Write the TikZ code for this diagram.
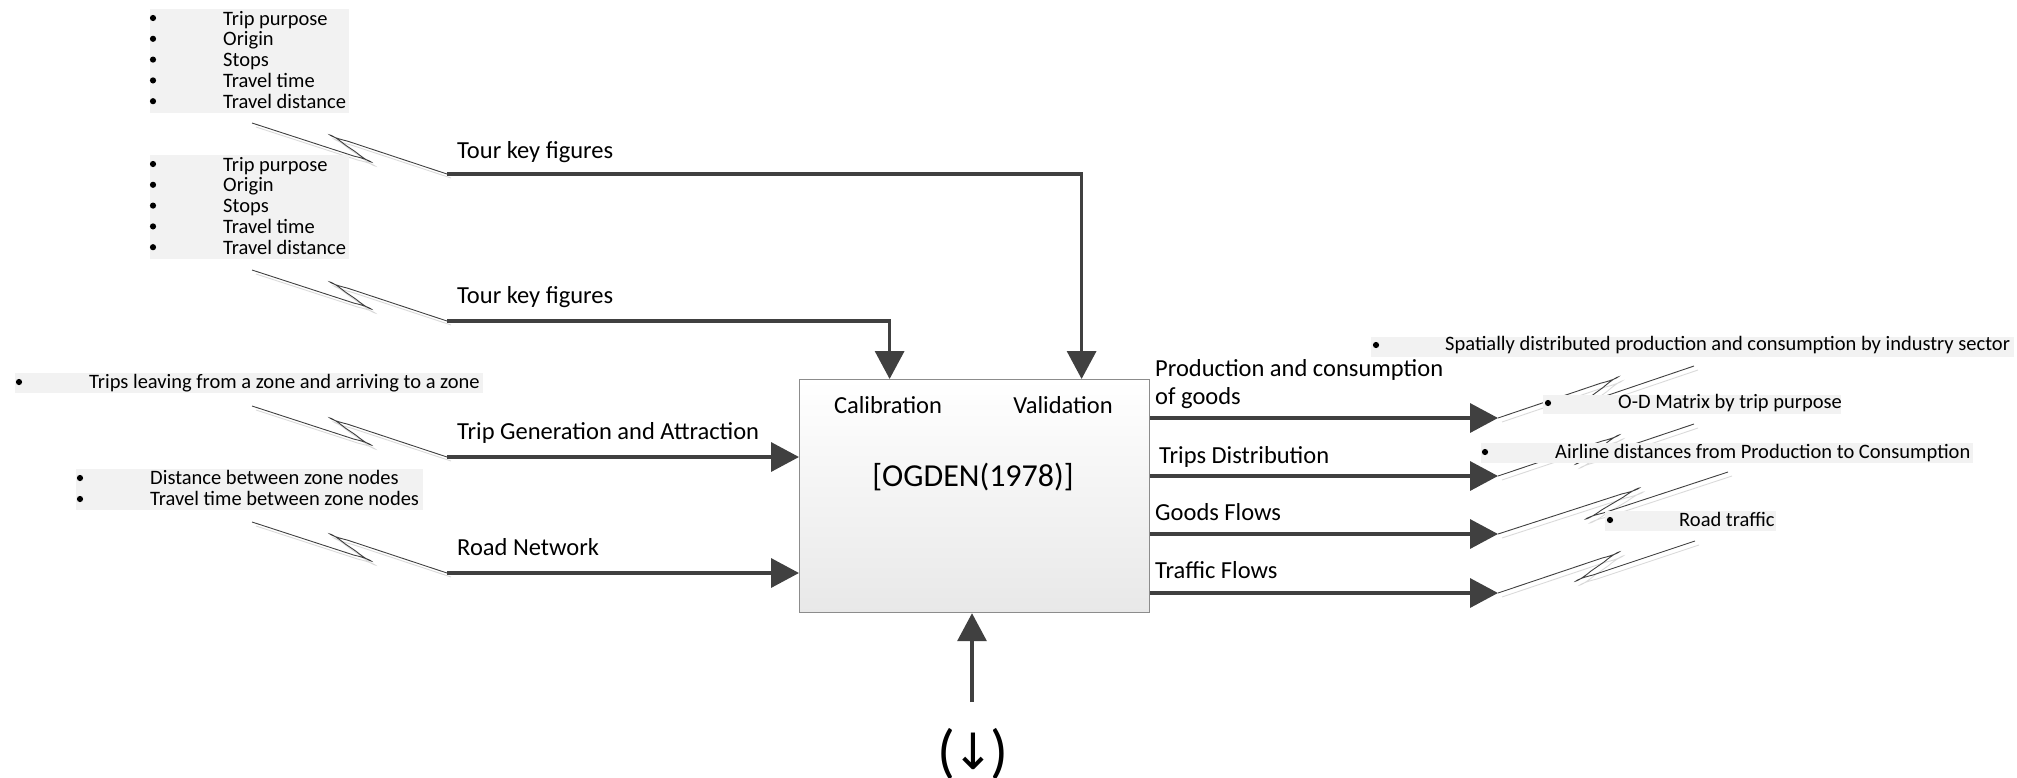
\documentclass[tikz,border=0pt]{standalone}
\usepackage{fontspec}
\setmainfont{Carlito}
\newfontfamily\djv{DejaVu Sans}
\usetikzlibrary{arrows.meta,calc}
\definecolor{ln}{HTML}{404040}
\definecolor{hlc}{HTML}{F2F2F2}
\definecolor{shd}{HTML}{DADADA}
\definecolor{bord}{HTML}{8C8C8C}
% lightning-bolt connector with hairpin loops: #1 start, #2 first tip, #3 second tip, #4 end, #5 loop spread angle (signed)
\newcommand\boltpath[5]{(#1) -- ($(#2)!16pt!(#1)$) .. controls ($(#2)!-9pt!#5:(#1)$) and ($(#2)!-9pt!-#5:(#3)$) .. ($(#2)!16pt!(#3)$)
  -- ($(#3)!16pt!(#2)$) .. controls ($(#3)!-9pt!-#5:(#2)$) and ($(#3)!-9pt!#5:(#4)$) .. ($(#3)!16pt!(#4)$) -- (#4)}
\newcommand\squigline[5]{%
  \draw[shadowline, shift={(4,4)}] \boltpath{#1}{#2}{#3}{#4}{#5};
  \draw[squigl] \boltpath{#1}{#2}{#3}{#4}{#5};}
\begin{document}
\begin{tikzpicture}[x=1pt,y=-1pt,
  lbl/.style={font=\fontsize{24.5}{28}\selectfont, anchor=base west, inner sep=0pt},
  itm/.style={font=\fontsize{20.5}{21}\selectfont, anchor=base west, inner sep=0pt},
  flow/.style={line width=3.5pt, draw=ln, -{Triangle[length=28pt,width=29pt]}},
  squigl/.style={draw=ln, line width=0.9pt},
  shadowline/.style={draw=shd, line width=0.9pt},
  hl/.style={fill=hlc},
  bul/.style={fill=black}]
\useasboundingbox (0,0) rectangle (2017,777);

% ---------- squiggle connectors (left) ----------
\squigline{252,123}{369,161}{332,136}{447,174}{15}
\squigline{252,270}{369,308}{332,283}{447,321}{15}
\squigline{252,406}{369,444}{332,419}{447,457}{15}
\squigline{252,522}{369,560}{332,535}{447,573}{15}

% ---------- squiggle connectors (right) ----------
\squigline{1498,418}{1616,378}{1579,405}{1694,366}{-15}
\squigline{1498,476}{1617,436}{1578,463}{1694,424}{-15}
\squigline{1498,534}{1637,489}{1588,518}{1728,472}{-15}
\squigline{1498,593}{1617,553}{1578,580}{1695,541}{-15}

% ---------- left bullet lists ----------
\path[hl] (150,9) rectangle (349,113);
\foreach \t [count=\i from 0] in {Trip purpose,Origin,Stops,Travel time,Travel distance}{
  \fill[bul] (153,{18+20.8*\i}) circle (3.1);
  \node[itm] (la\i) at (223,{25+20.8*\i}) {\t};
}
\path[hl] (150,155) rectangle (349,259);
\foreach \t [count=\i from 0] in {Trip purpose,Origin,Stops,Travel time,Travel distance}{
  \fill[bul] (153,{164+20.8*\i}) circle (3.1);
  \node[itm] (lb\i) at (223,{171+20.8*\i}) {\t};
}
\path[hl] (15,373) rectangle (483,393);
\fill[bul] (19,382) circle (3.1);
\node[itm] (lc) at (89,388) {Trips leaving from a zone and arriving to a zone};
\path[hl] (76,469) rectangle (423,510);
\fill[bul] (80,478) circle (3.1);
\fill[bul] (80,499) circle (3.1);
\node[itm] (ld1) at (150,484) {Distance between zone nodes};
\node[itm] (ld2) at (150,505) {Travel time between zone nodes};

% ---------- right bullet lists ----------
\path[hl] (1371,337) rectangle (2014,357);
\fill[bul] (1376,345) circle (3.1);
\node[itm] (ra) at (1445,350) {Spatially distributed production and consumption by industry sector};
\path[hl] (1543,395) rectangle (1841,414);
\fill[bul] (1548,403) circle (3.1);
\node[itm] (rb) at (1618,408) {O-D Matrix by trip purpose};
\path[hl] (1481,443) rectangle (1973,463);
\fill[bul] (1485,452) circle (3.1);
\node[itm] (rc) at (1555,458) {Airline distances from Production to Consumption};
\path[hl] (1605,511) rectangle (1776,531);
\fill[bul] (1610,520) circle (3.1);
\node[itm] (rd) at (1679,526) {Road traffic};

% ---------- central box ----------
\node[draw=bord, line width=1.2pt, top color=white, bottom color=black!9,
      minimum width=350pt, minimum height=233pt, inner sep=0pt, anchor=north west] (model) at (799,379) {};
\node[lbl, anchor=base] (cal) at (888,413) {Calibration};
\node[lbl, anchor=base] (val) at (1063,413) {Validation};
\node[font=\fontsize{32}{36}\selectfont, anchor=base, inner sep=0pt] (og) at (973,486) {[OGDEN(1978)]};

% ---------- left / top flows ----------
\coordinate (t1) at (447,174);
\coordinate (t2) at (447,321);
\coordinate (tg) at (447,457);
\coordinate (rn) at (447,573);
\draw[flow] (t1) -| ([xshift=107pt]model.north);
\draw[flow] (t2) -| ([xshift=-85pt]model.north);
\draw[flow] (tg) -- (tg -| model.west);
\draw[flow] (rn) -- (rn -| model.west);
\node[lbl] (lt1) at (457,158) {Tour key figures};
\node[lbl] (lt2) at (457,303) {Tour key figures};
\node[lbl] (ltg) at (457,439) {Trip Generation and Attraction};
\node[lbl] (lrn) at (457,555) {Road Network};

% ---------- right flows ----------
\coordinate (o1) at (1498,418);
\coordinate (o2) at (1498,476);
\coordinate (o3) at (1498,534);
\coordinate (o4) at (1498,593);
\draw[flow] (o1 -| model.east) -- (o1);
\draw[flow] (o2 -| model.east) -- (o2);
\draw[flow] (o3 -| model.east) -- (o3);
\draw[flow] (o4 -| model.east) -- (o4);
\node[lbl] (lo1a) at (1155,376) {Production and consumption};
\node[lbl] (lo1b) at (1155,404) {of goods};
\node[lbl] (lo2) at (1159,463) {Trips Distribution};
\node[lbl] (lo3) at (1155,520) {Goods Flows};
\node[lbl] (lo4) at (1155,578) {Traffic Flows};

% ---------- bottom ----------
\coordinate (bs) at (972,702);
\draw[flow] (bs) -- (bs |- model.south);
\node[font=\fontsize{59}{64}\selectfont, anchor=base, inner sep=0pt] (mech) at (973,771)
  {(\kern-3pt{\djv\fontsize{50}{56}\selectfont\raisebox{2pt}{↓}}\kern-3pt)};
\end{tikzpicture}
\end{document}
